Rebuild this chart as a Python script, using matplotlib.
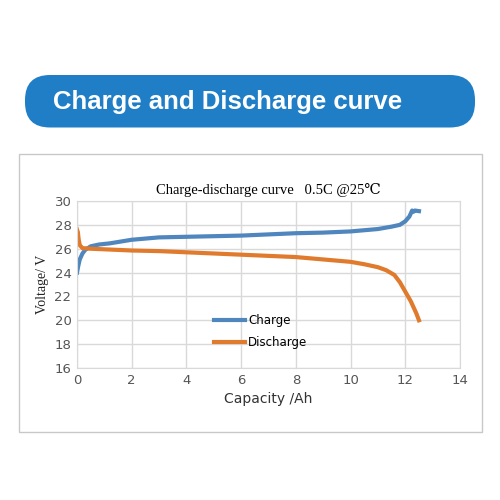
import matplotlib.pyplot as plt
from matplotlib.patches import FancyBboxPatch, Rectangle

# charge curve (Ah, V)
charge_x = [0, 0.05, 0.1, 0.2, 0.3, 0.5, 0.8, 1.2, 2, 3, 4, 5, 6, 7, 8, 9, 10, 10.5, 11, 11.5, 11.8, 12.0, 12.15, 12.25, 12.3, 12.35, 12.5]
charge_y = [24.0, 24.6, 25.1, 25.6, 25.9, 26.2, 26.35, 26.45, 26.75, 26.95, 27.0, 27.05, 27.1, 27.2, 27.3, 27.35, 27.45, 27.55, 27.65, 27.85, 28.0, 28.3, 28.7, 29.2, 29.1, 29.2, 29.15]
# discharge curve
discharge_x = [0, 0.03, 0.06, 0.1, 0.2, 0.5, 1, 2, 3, 4, 5, 6, 7, 8, 9, 10, 10.5, 11, 11.3, 11.6, 11.8, 12.0, 12.2, 12.4, 12.5]
discharge_y = [27.6, 27.4, 26.8, 26.3, 26.05, 26.0, 25.95, 25.85, 25.8, 25.7, 25.6, 25.5, 25.4, 25.3, 25.1, 24.9, 24.7, 24.45, 24.2, 23.8, 23.2, 22.4, 21.6, 20.6, 20.0]

fig = plt.figure(figsize=(5, 5), dpi=100)
fig.patch.set_facecolor('white')

# banner
banner = FancyBboxPatch((0.05, 0.745), 0.9, 0.105, boxstyle='round,pad=0,rounding_size=0.05',
                        transform=fig.transFigure, facecolor='#1f7ec6', edgecolor='none', zorder=-2)
fig.patches.append(banner)
fig.text(0.455, 0.797, 'Charge and Discharge curve', ha='center', va='center',
         color='white', fontsize=18.5, fontweight='bold', family='Liberation Sans')

# chart frame
frame = Rectangle((0.037, 0.137), 0.926, 0.555, transform=fig.transFigure,
                  facecolor='white', edgecolor='#c8c8c8', linewidth=1, zorder=-2)
fig.patches.append(frame)

ax = fig.add_axes([0.154, 0.264, 0.766, 0.334])
ax.patch.set_alpha(0)
ax.plot(charge_x, charge_y, color='#4f86bd', linewidth=3, label='Charge')
ax.plot(discharge_x, discharge_y, color='#e07b2e', linewidth=3, label='Discharge')
ax.set_xlim(0, 14)
ax.set_ylim(16, 30)
ax.set_xticks(range(0, 15, 2))
ax.set_yticks(range(16, 31, 2))
ax.grid(True, color='#d9d9d9', linewidth=1)
for s in ax.spines.values():
    s.set_color('#d9d9d9')
ax.tick_params(length=0, labelsize=9.5, colors='#555555', pad=4)
ax.set_xlabel('Capacity /Ah', fontsize=10, color='#333333')
ax.set_ylabel('Voltage/ V', fontsize=10, family='Liberation Serif', color='#222222')
ax.set_title('Charge-discharge curve   0.5C @25\u2103', fontsize=10.5,
             family=['Liberation Serif', 'DejaVu Serif'], pad=5)
ax.legend(loc='center', bbox_to_anchor=(0.48, 0.22), frameon=False, fontsize=8.5,
          handlelength=2.6, handletextpad=0.3, labelspacing=0.75)

fig.savefig('out.png', dpi=100)
